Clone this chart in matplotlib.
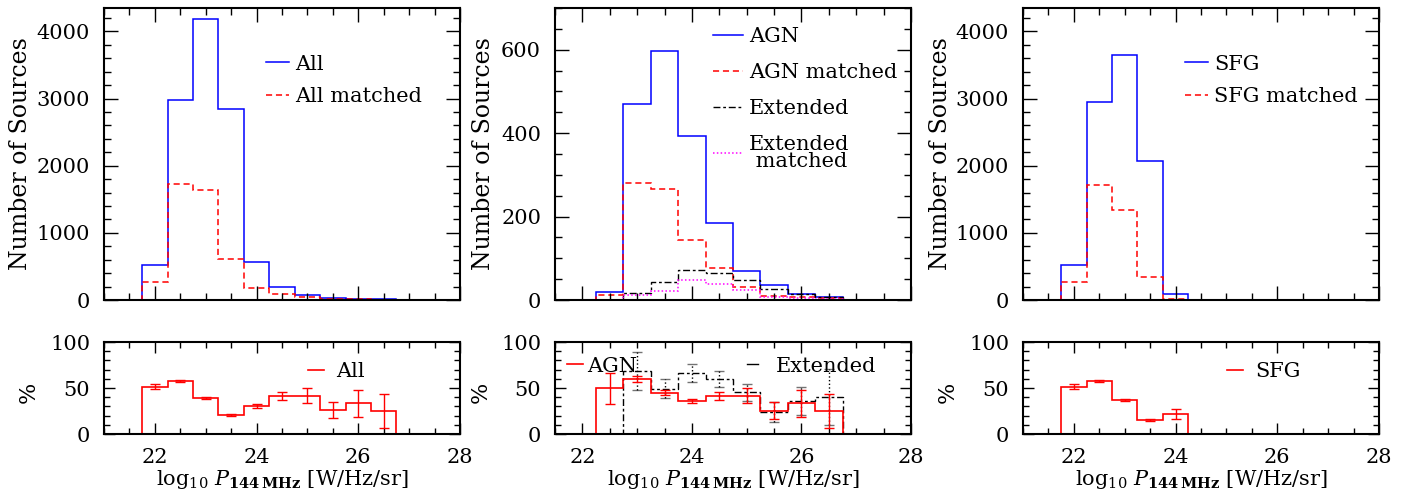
import numpy as np
import matplotlib
matplotlib.use("Agg")
import matplotlib.pyplot as plt
from matplotlib.ticker import MultipleLocator
from matplotlib.lines import Line2D

plt.rcParams['font.family'] = ['DejaVu Serif']
plt.rcParams['mathtext.fontset'] = 'dejavuserif'
plt.rcParams['font.size'] = 15

# ---------------- data ----------------
centers = [21.0, 21.5, 22.0, 22.5, 23.0, 23.5, 24.0, 24.5, 25.0, 25.5, 26.0, 26.5, 27.0, 27.5, 28.0]

all_n = [0, 0, 525, 2974, 4184, 2845, 565, 188, 79, 35, 20, 10, 4, 0, 0]
all_matched = [0, 0, 273, 1730, 1636, 615, 173, 84, 45, 20, 10, 5, 2, 0, 0]

agn_n = [0, 0, 0, 18, 470, 598, 394, 184, 69, 35, 14, 8, 1, 0, 0]
agn_matched = [0, 0, 0, 11, 280, 267, 144, 77, 30, 10, 6, 4, 0, 0, 0]
ext_n = [0, 0, 0, 0, 17, 44, 73, 65, 49, 26, 14, 7, 0, 0, 0]
ext_matched = [0, 0, 0, 0, 11, 22, 47, 38, 23, 6, 4, 2, 0, 0, 0]

sfg_n = [0, 0, 525, 2950, 3648, 2077, 94, 0, 0, 0, 0, 0, 0, 0, 0]
sfg_matched = [0, 0, 273, 1720, 1338, 337, 15, 0, 0, 0, 0, 0, 0, 0, 0]

all_pct = [0, 0, 51.4, 58.0, 39.0, 21.0, 30.4, 41.7, 41.7, 26.0, 33.3, 25.0, 0, 0, 0]
all_err = [0, 0, 3.0, 1.0, 1.0, 1.0, 2.0, 4.3, 8.0, 9.0, 15.0, 18.0, 0, 0, 0]

agn_pct = [0, 0, 0, 49.6, 59.4, 44.6, 35.9, 41.7, 41.7, 25.4, 33.3, 25.0, 0, 0, 0]
agn_err = [0, 0, 0, 17.0, 3.4, 2.7, 2.5, 4.3, 8.0, 9.4, 15.0, 18.0, 0, 0, 0]
ext_pct = [0, 0, 0, 0, 68.5, 49.3, 66.3, 59.8, 45.3, 23.9, 35.9, 40.2, 0, 0, 0]
ext_err = [0, 0, 0, 0, 21.0, 10.0, 10.0, 9.0, 9.0, 11.0, 15.0, 30.0, 0, 0, 0]

sfg_pct = [0, 0, 51.4, 58.0, 36.6, 15.6, 22.0, 0, 0, 0, 0, 0, 0, 0, 0]
sfg_err = [0, 0, 3.0, 1.0, 1.0, 1.0, 5.4, 0, 0, 0, 0, 0, 0, 0, 0]

xlabel = r'$\log_{10}\,P_{\mathbf{144\,MHz}}$ [W/Hz/sr]'

# ---------------- helpers ----------------
c = np.array(centers)
edges = np.concatenate([c - 0.25, [c[-1] + 0.25]])

BLUE = '#0000ff'
RED = '#ff0000'
MAG = '#ff00ff'
DASH = (0, (4, 2.5))
DASHDOT = (0, (5, 2, 2, 2))
DOT = (0, (1, 1.5))

W, H = 1416, 491
fig = plt.figure(figsize=(W / 100, H / 100), dpi=100)


def add_ax(x0, x1, y0, y1):
    return fig.add_axes([x0 / W, 1 - y1 / H, (x1 - x0) / W, (y1 - y0) / H])


def style(ax, xmaj, xmin, ymaj, ymin, big=True):
    ax.xaxis.set_major_locator(MultipleLocator(xmaj))
    ax.xaxis.set_minor_locator(MultipleLocator(xmin))
    ax.yaxis.set_major_locator(MultipleLocator(ymaj))
    ax.yaxis.set_minor_locator(MultipleLocator(ymin))
    L = 10 if big else 8
    ax.tick_params(which='major', direction='in', top=True, right=True, length=L, width=1.0, pad=10, labelsize=15)
    ax.tick_params(which='minor', direction='in', top=True, right=True, length=L / 2, width=1.0)
    for s in ax.spines.values():
        s.set_linewidth(1.5)


def stairs(ax, vals, **kw):
    ax.stairs(vals, edges, baseline=None, **kw)


def errs(ax, pct, err, color, dotted=False):
    p = np.array(pct)
    e = np.array(err)
    m = e > 0
    if not dotted:
        ax.errorbar(c[m], p[m], yerr=e[m], fmt='none', ecolor=color, elinewidth=1.0,
                    capsize=3.3, capthick=1.0)
    else:
        _, caps, bars = ax.errorbar(c[m], p[m], yerr=e[m], fmt='none', ecolor=color, elinewidth=1.0,
                                    capsize=3.3, capthick=1.0)
        for b in bars:
            b.set_linestyle(':')
        for cp in caps:
            cp.set_alpha(0.55)


def key(color, ls='-', lw=1.1):
    return Line2D([], [], color=color, ls=ls, lw=lw)


panels_x = [(104, 460, 21.0), (555, 911, 21.5), (1023, 1379, 21.0)]
top_y = (8, 300)
bot_y = (342, 434)

LEGKW = dict(loc='upper left', frameon=False, borderpad=0, borderaxespad=0, fontsize=15)

# ---------------- panel 1 ----------------
x0, x1, xl = panels_x[0]
ax = add_ax(x0, x1, *top_y)
stairs(ax, all_n, color=BLUE, lw=1.1)
stairs(ax, all_matched, color=RED, lw=1.1, ls=DASH)
ax.set_xlim(xl, 28)
ax.set_ylim(0, 4350)
style(ax, 2, 0.5, 1000, 200)
ax.set_xticklabels([])
ax.set_ylabel('Number of Sources', fontsize=17)
ax.yaxis.set_label_coords(-0.202, 0.5)
ax.legend([key(BLUE), key(RED, DASH)], ['All', 'All matched'],
          bbox_to_anchor=(0.455, 0.84), handlelength=1.1, handletextpad=0.3, labelspacing=0.65, **LEGKW)

axb = add_ax(x0, x1, *bot_y)
stairs(axb, all_pct, color=RED, lw=1.2)
errs(axb, all_pct, all_err, RED)
axb.set_xlim(xl, 28)
axb.set_ylim(0, 100)
style(axb, 2, 0.5, 50, 10, big=False)
axb.set_ylabel('%', fontsize=16)
axb.yaxis.set_label_coords(-0.18, 0.45)
axb.set_xlabel(xlabel, fontsize=15, labelpad=1)
axb.legend([key(RED, lw=1.2)], ['All'], bbox_to_anchor=(0.572, 0.78), handlelength=0.8, handletextpad=0.55, **LEGKW)

# ---------------- panel 2 ----------------
x0, x1, xl = panels_x[1]
ax = add_ax(x0, x1, *top_y)
stairs(ax, agn_n, color=BLUE, lw=1.1)
stairs(ax, agn_matched, color=RED, lw=1.1, ls=DASH)
stairs(ax, ext_n, color='black', lw=1.0, ls=DASHDOT)
stairs(ax, ext_matched, color=MAG, lw=1.1, ls=DOT)
ax.set_xlim(xl, 28)
ax.set_ylim(0, 700)
style(ax, 2, 0.5, 200, 50)
ax.set_xticklabels([])
ax.set_ylabel('Number of Sources', fontsize=17)
ax.yaxis.set_label_coords(-0.168, 0.5)
leg = ax.legend([key(BLUE), key(RED, DASH), key('black', DASHDOT, 1.0), key(MAG, DOT)],
                ['AGN', 'AGN matched', 'Extended', 'Extended\n matched'],
                bbox_to_anchor=(0.445, 0.935), handlelength=1.4, handletextpad=0.3, labelspacing=0.82, **LEGKW)
leg.get_texts()[3].set_linespacing(0.85)

axb = add_ax(x0, x1, *bot_y)
stairs(axb, ext_pct, color='black', lw=1.0, ls=DASHDOT)
errs(axb, ext_pct, ext_err, 'black', dotted=True)
stairs(axb, agn_pct, color=RED, lw=1.2)
errs(axb, agn_pct, agn_err, RED)
axb.set_xlim(xl, 28)
axb.set_ylim(0, 100)
style(axb, 2, 0.5, 50, 10, big=False)
axb.set_ylabel('%', fontsize=16)
axb.yaxis.set_label_coords(-0.178, 0.45)
axb.set_xlabel(xlabel, fontsize=15, labelpad=1)
leg1 = axb.legend([key(RED, lw=1.2)], ['AGN'], bbox_to_anchor=(0.033, 0.84), handlelength=0.8,
                  handletextpad=0.2, **LEGKW)
axb.add_artist(leg1)
axb.legend([key('black', '-', 1.0)], ['Extended'], bbox_to_anchor=(0.54, 0.84), handlelength=0.5,
           handletextpad=0.85, **LEGKW)

# ---------------- panel 3 ----------------
x0, x1, xl = panels_x[2]
ax = add_ax(x0, x1, *top_y)
stairs(ax, sfg_n, color=BLUE, lw=1.1)
stairs(ax, sfg_matched, color=RED, lw=1.1, ls=DASH)
ax.set_xlim(xl, 28)
ax.set_ylim(0, 4350)
style(ax, 2, 0.5, 1000, 200)
ax.set_xticklabels([])
ax.set_ylabel('Number of Sources', fontsize=17)
ax.yaxis.set_label_coords(-0.2, 0.5)
ax.legend([key(BLUE), key(RED, DASH)], ['SFG', 'SFG matched'],
          bbox_to_anchor=(0.455, 0.84), handlelength=1.1, handletextpad=0.3, labelspacing=0.65, **LEGKW)

axb = add_ax(x0, x1, *bot_y)
stairs(axb, sfg_pct, color=RED, lw=1.2)
errs(axb, sfg_pct, sfg_err, RED)
axb.set_xlim(xl, 28)
axb.set_ylim(0, 100)
style(axb, 2, 0.5, 50, 10, big=False)
axb.set_ylabel('%', fontsize=16)
axb.yaxis.set_label_coords(-0.18, 0.45)
axb.set_xlabel(xlabel, fontsize=15, labelpad=1)
axb.legend([key(RED, lw=1.2)], ['SFG'], bbox_to_anchor=(0.572, 0.78), handlelength=0.8, handletextpad=0.55, **LEGKW)

fig.savefig('out.png', dpi=100)
